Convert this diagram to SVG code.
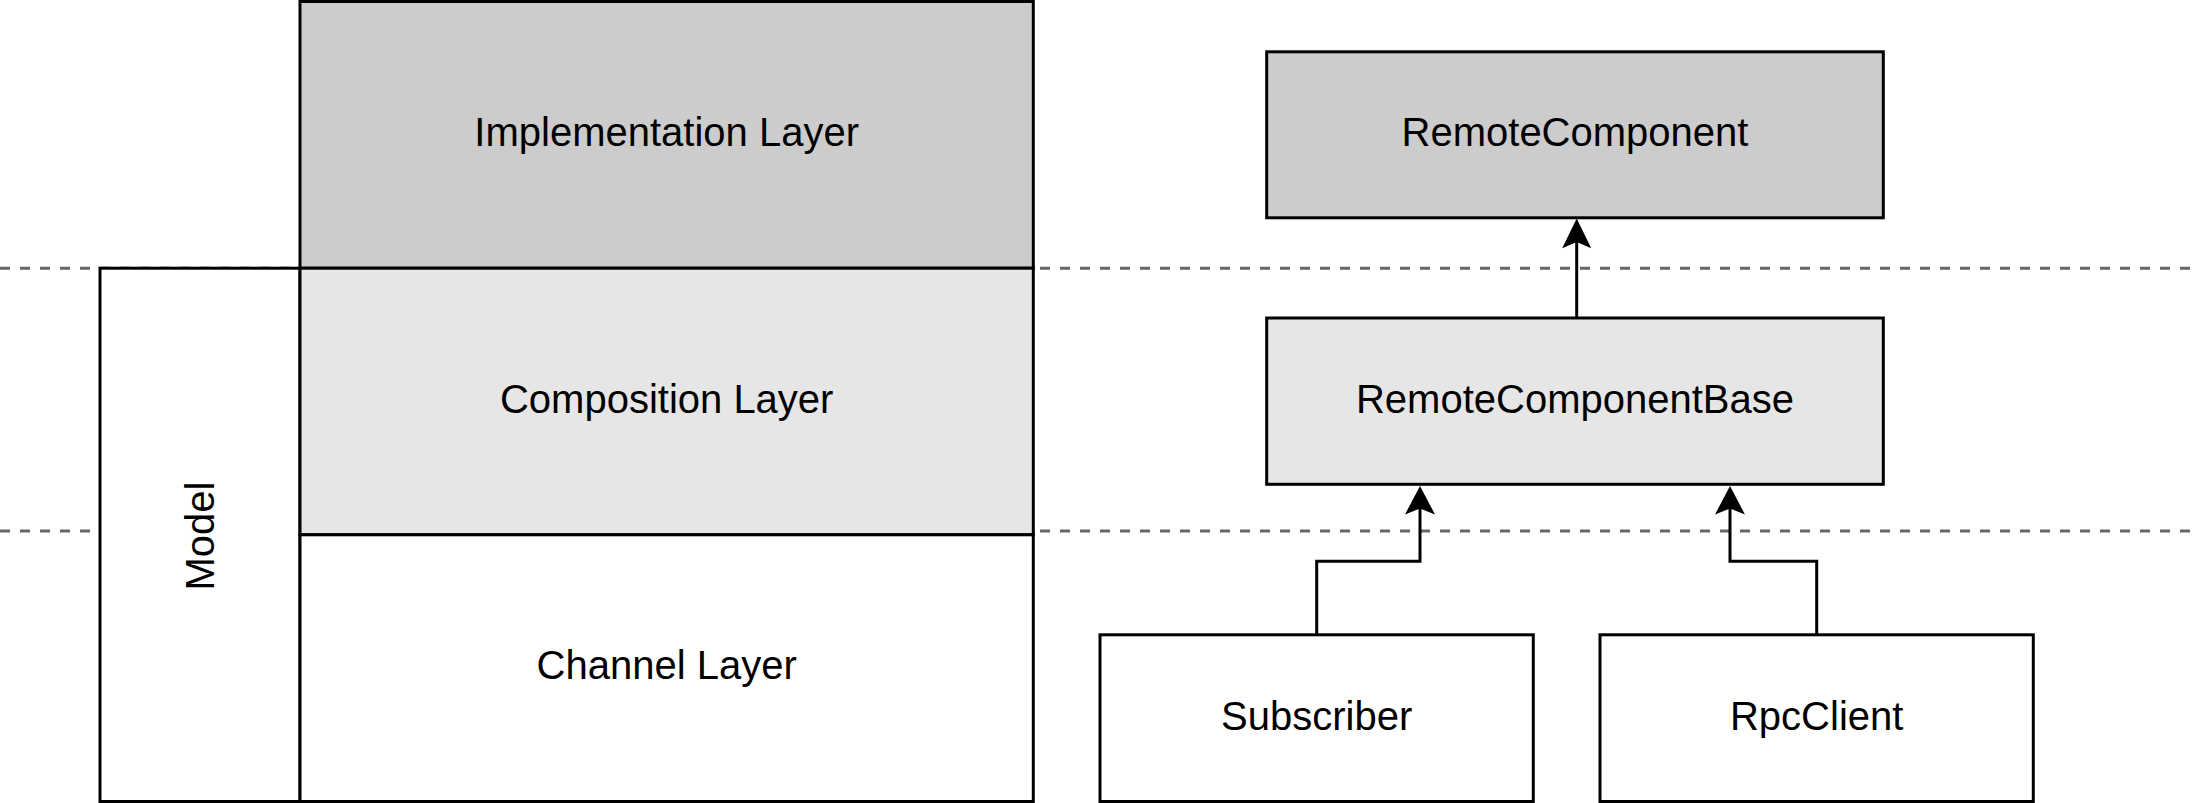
<svg xmlns="http://www.w3.org/2000/svg" width="2200" height="803" viewBox="0 0 2200 803">
  <style>
    .box { stroke: #000000; stroke-width: 3; }
    .dark { fill: #cccccc; }
    .light { fill: #e6e6e6; }
    .white { fill: #ffffff; }
    .lbl { font-family: "Liberation Sans", Arial, Helvetica, sans-serif; font-size: 40px; fill: #000000; text-anchor: middle; }
    .dash { stroke: #666666; stroke-width: 3; stroke-dasharray: 10 10; fill: none; }
    .conn { stroke: #000000; stroke-width: 3; fill: none; }
    .head { fill: #000000; stroke: none; }
  </style>
  <rect x="0" y="0" width="2200" height="803" fill="#ffffff"/>

  <g id="separators">
    <line class="dash" x1="0" y1="268.3" x2="2200" y2="268.3"/>
    <line class="dash" x1="0" y1="531" x2="2200" y2="531"/>
  </g>

  <g id="model">
    <rect class="box white" x="100" y="268.2" width="200" height="533.3"/>
    <text class="lbl" transform="translate(214,536) rotate(-90)">Model</text>
  </g>

  <g id="implementation-layer">
    <rect class="box dark" x="300" y="1.5" width="733.3" height="266.7"/>
    <text class="lbl" x="666.7" y="146">Implementation Layer</text>
  </g>

  <g id="composition-layer">
    <rect class="box light" x="300" y="268.2" width="733.3" height="266.6"/>
    <text class="lbl" x="666.7" y="413">Composition Layer</text>
  </g>

  <g id="channel-layer">
    <rect class="box white" x="300" y="534.8" width="733.3" height="266.7"/>
    <text class="lbl" x="666.7" y="679">Channel Layer</text>
  </g>

  <g id="remote-component">
    <rect class="box dark" x="1266.7" y="51.8" width="616.6" height="166"/>
    <text class="lbl" x="1575" y="146">RemoteComponent</text>
  </g>

  <g id="remote-component-base">
    <rect class="box light" x="1266.7" y="318" width="616.6" height="166.3"/>
    <text class="lbl" x="1575" y="413">RemoteComponentBase</text>
  </g>

  <g id="subscriber">
    <rect class="box white" x="1100" y="634.8" width="433.3" height="166.7"/>
    <text class="lbl" x="1316.7" y="730">Subscriber</text>
  </g>

  <g id="rpc-client">
    <rect class="box white" x="1600" y="634.8" width="433.3" height="166.7"/>
    <text class="lbl" x="1816.7" y="730">RpcClient</text>
  </g>

  <g id="connectors">
    <path class="conn" d="M1576.7 318 V240"/>
    <path class="head" d="M1576.7 218.5 L1591.2 248.3 L1576.7 242 L1562.2 248.3 Z"/>
    <path class="conn" d="M1316.7 634.8 V561.3 H1420 V508"/>
    <path class="head" d="M1420 486 L1435 514.5 L1420 508.5 L1405 514.5 Z"/>
    <path class="conn" d="M1816.7 634.8 V561.3 H1730 V508"/>
    <path class="head" d="M1730 486 L1745 514.5 L1730 508.5 L1715 514.5 Z"/>
  </g>
</svg>
